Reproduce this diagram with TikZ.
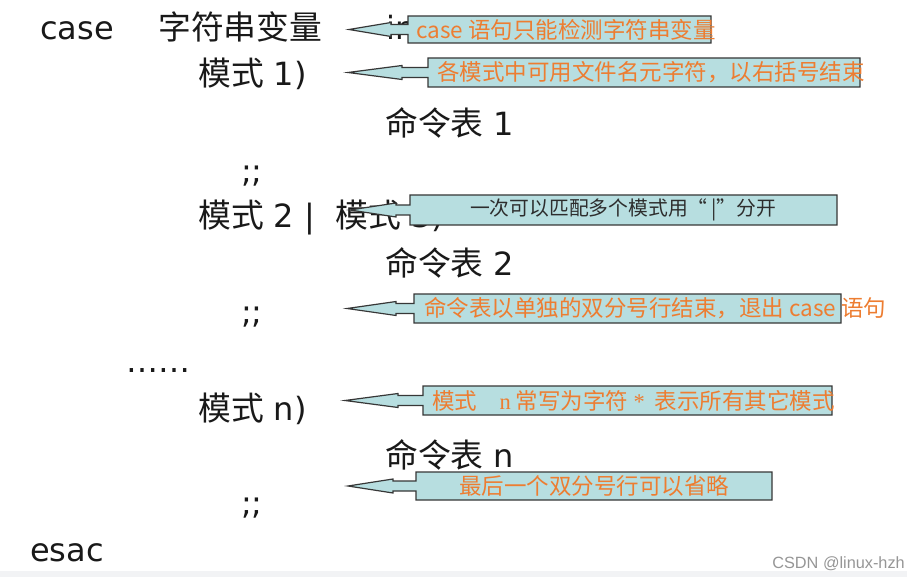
\documentclass[tikz,border=0pt]{standalone}
\usepackage{fontspec}
\setmainfont{DejaVu Sans}
\newfontfamily\cjkfam{Noto Sans CJK SC}
\newfontfamily\serifn{Liberation Serif}
\newfontfamily\wmfont{Liberation Sans}
\newcommand\cjk{\cjkfam\fontsize{32.8}{36}\selectfont}
\usetikzlibrary{calc}
\definecolor{cfill}{RGB}{183,222,224}
\definecolor{cedge}{RGB}{55,55,55}
\definecolor{corange}{RGB}{237,125,49}
\definecolor{cdark}{RGB}{45,45,45}
\definecolor{wmgray}{RGB}{150,150,150}
\definecolor{stripgray}{RGB}{242,243,245}
\newcommand\mycallout[3]{%
  \filldraw[cline] (#1.north west) -- (#1.north east) -- (#1.south east) -- (#1.south west)
    -- ($(#1.west)+(0,5)$) -- ($(#2)+(#3,5)$) -- ($(#2)+(#3,7)$) -- (#2)
    -- ($(#2)+(#3,-7)$) -- ($(#2)+(#3,-5)$) -- ($(#1.west)+(0,-5)$) -- cycle;}
\begin{document}
\begin{tikzpicture}[x=1pt,y=-1pt,
  main/.style={anchor=base west, inner sep=0pt, font=\fontsize{32}{36}\selectfont, text=black!90},
  cbox/.style={inner sep=0pt, outer sep=0pt, anchor=north west},
  cline/.style={draw=cedge, fill=cfill, line width=1.2pt, line join=miter},
  ctext/.style={anchor=west, inner sep=0pt, font=\cjkfam\fontsize{22.5}{26}\selectfont, text=corange},
]
\useasboundingbox (0,0) rectangle (907,577);
\fill[white] (0,0) rectangle (907,577);
\fill[stripgray] (0,571) rectangle (907,577);

% main program text
\node[main] (case) at (40,40) {case};
\node[main] (var) at (158,40) {{\cjk 字符串变量}};
\node[main] (in) at (386,40) {in};
\node[main] (p1) at (198,86) {{\cjk 模式} 1)};
\node[main] (cmd1) at (385,136) {{\cjk 命令表} 1};
\node[main] (s1) at (241,183) {;;};
\node[main] (p23) at (198,228) {{\cjk 模式} 2 |\ \ {\cjk 模式} 3)};
\node[main] (cmd2) at (385,276) {{\cjk 命令表} 2};
\node[main] (s2) at (241,323) {;;};
\node[main] (dots) at (126,372) {……};
\node[main] (pn) at (198,420) {{\cjk 模式} n)};
\node[main] (cmdn) at (385,467) {{\cjk 命令表} n};
\node[main] (s3) at (241,514) {;;};
\node[main] (esac) at (30,561) {esac};
\node[anchor=base east, inner sep=0pt, font=\wmfont\fontsize{16.3}{19}\selectfont, text=wmgray] (wm) at (905,568) {CSDN @linux-hzh};

% callout 1
\node[cbox, minimum width=303pt, minimum height=27pt] (b1) at (408,16) {};
\coordinate (t1) at (349,29.5);
\mycallout{b1}{t1}{42}
\node[ctext] (l1) at (416,29.5) {case 语句只能检测字符串变量};

% callout 2
\node[cbox, minimum width=432pt, minimum height=29pt] (b2) at (428,58) {};
\coordinate (t2) at (348,72.5);
\mycallout{b2}{t2}{54}
\node[ctext] (l2) at (437,72.5) {各模式中可用文件名元字符，以右括号结束};

% callout 3
\node[cbox, minimum width=427pt, minimum height=30pt] (b3) at (410,195) {};
\coordinate (t3) at (350,210);
\mycallout{b3}{t3}{46}
\node[anchor=center, inner sep=0pt, font=\cjkfam\fontsize{19.8}{23}\selectfont, text=cdark] (l3) at (623,210) {一次可以匹配多个模式用“\,|”分开};

% callout 4
\node[cbox, minimum width=427pt, minimum height=29pt] (b4) at (414,294) {};
\coordinate (t4) at (347,308.5);
\mycallout{b4}{t4}{49}
\node[ctext] (l4) at (424,308.5) {命令表以单独的双分号行结束，退出 case 语句};

% callout 5
\node[cbox, minimum width=409pt, minimum height=29pt] (b5) at (423,386) {};
\coordinate (t5) at (345,400.5);
\mycallout{b5}{t5}{53}
\node[ctext] (l5) at (432,400.5) {模式\quad{\serifn n} 常写为字符\ {\serifn *}\ \ 表示所有其它模式};

% callout 6
\node[cbox, minimum width=356pt, minimum height=28pt] (b6) at (416,472) {};
\coordinate (t6) at (348,486);
\mycallout{b6}{t6}{45}
\node[ctext, anchor=center] (l6) at (594,486) {最后一个双分号行可以省略};
\end{tikzpicture}
\end{document}
